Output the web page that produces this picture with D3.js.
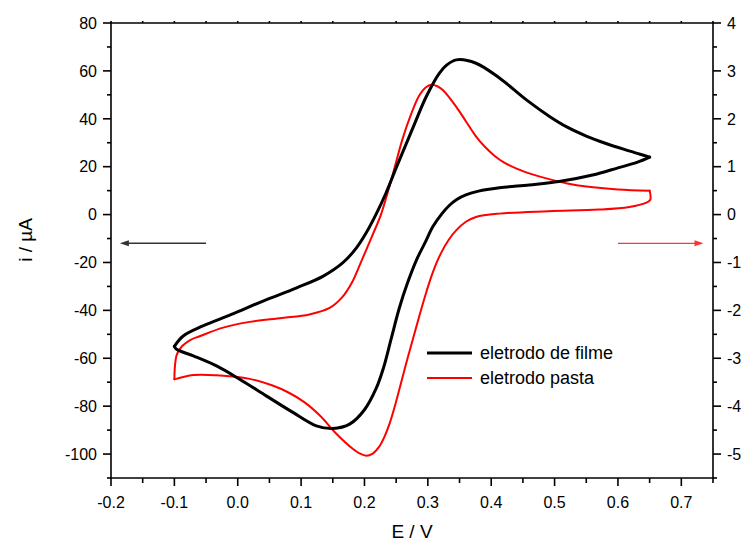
<!DOCTYPE html>
<html>
<head>
<meta charset="utf-8">
<script src="https://cdn.jsdelivr.net/npm/d3@7"></script>
<style>
  html, body { margin: 0; padding: 0; background: #fff; }
  svg { display: block; font-family: "Liberation Sans", Arial, sans-serif; }
</style>
</head>
<body>
<svg id="chart" width="748" height="542"></svg>
<script>
// ---- data ----
// eletrodo de filme (left axis, µA): forward scan then reverse scan
const filmeForwardE = [-0.1, -0.086, -0.055, -0.01, 0.04, 0.093, 0.135, 0.166, 0.187, 0.203, 0.219, 0.234, 0.250, 0.265, 0.280, 0.297, 0.318, 0.330, 0.345, 0.376, 0.413, 0.455, 0.492, 0.520, 0.550, 0.580, 0.610, 0.635, 0.650];
const filmeForwardI = [-55, -50.7, -46.5, -41.7, -36.1, -30.6, -25.7, -20.1, -14, -7.5, 0.5, 9, 19.5, 29, 38.5, 49, 59, 62.5, 64.6, 63.2, 57, 48, 41, 36.5, 32.8, 29.8, 27.2, 25.2, 24];
const filmeReverseE = [0.650, 0.630, 0.600, 0.560, 0.507, 0.460, 0.413, 0.380, 0.360, 0.345, 0.333, 0.322, 0.308, 0.296, 0.282, 0.268, 0.255, 0.242, 0.230, 0.2186, 0.200, 0.1766, 0.150, 0.124, 0.087, 0.045, 0.003, -0.0335, -0.070, -0.0965, -0.1];
const filmeReverseI = [24, 21.8, 19.5, 16.5, 13.8, 12.4, 11.2, 9.8, 8.2, 6.2, 3.6, 0.3, -5, -11.5, -19, -28.5, -39, -52, -64, -72.5, -81.5, -87.5, -89.3, -88.2, -82.6, -75.7, -68.75, -63.2, -59, -56.25, -55];

// eletrodo pasta (right axis)
const pastaForwardE = [-0.1, -0.099, -0.096, -0.088, -0.075, -0.06, -0.023, 0.019, 0.07, 0.113, 0.145, 0.165, 0.18, 0.195, 0.212, 0.226, 0.238, 0.249, 0.26, 0.273, 0.286, 0.297, 0.306, 0.315, 0.3236, 0.3446, 0.36, 0.375, 0.39, 0.405, 0.42, 0.44, 0.465, 0.49, 0.52, 0.55, 0.60, 0.65];
const pastaForwardI = [-3.44, -3.15, -2.92, -2.75, -2.62, -2.54, -2.36, -2.24, -2.16, -2.085, -1.95, -1.725, -1.425, -0.975, -0.45, 0.0, 0.525, 1.05, 1.575, 2.075, 2.475, 2.66, 2.71, 2.68, 2.60, 2.255, 1.95, 1.65, 1.415, 1.23, 1.09, 0.96, 0.84, 0.745, 0.65, 0.585, 0.525, 0.50];
const pastaReverseE = [0.65, 0.651, 0.644, 0.618, 0.57, 0.49, 0.413, 0.376, 0.36, 0.345, 0.333, 0.32, 0.308, 0.298, 0.288, 0.278, 0.268, 0.258, 0.249, 0.24, 0.232, 0.223, 0.213, 0.203, 0.192, 0.182, 0.1556, 0.13, 0.105, 0.08, 0.055, 0.019, -0.0335, -0.07, -0.1];
const pastaReverseI = [0.50, 0.31, 0.245, 0.16, 0.105, 0.07, 0.02, -0.05, -0.15, -0.325, -0.525, -0.825, -1.2, -1.6, -2.05, -2.525, -3.0, -3.5, -3.95, -4.35, -4.625, -4.85, -4.99, -5.035, -4.985, -4.895, -4.575, -4.2, -3.915, -3.715, -3.57, -3.43, -3.355, -3.35, -3.44];

const xTicks = [-0.2, -0.1, 0.0, 0.1, 0.2, 0.3, 0.4, 0.5, 0.6, 0.7];
const yLeftTicks = [-100, -80, -60, -40, -20, 0, 20, 40, 60, 80];
const yRightTicks = [-5, -4, -3, -2, -1, 0, 1, 2, 3, 4];
const legendLabels = ["eletrodo de filme", "eletrodo pasta"];
const xTitle = "E / V";
const yTitle = "i / \u00B5A";
// arrows: [E start, E end, i (left axis units)]
const arrowLeft = [-0.05, -0.186, -12];
const arrowRight = [0.60, 0.735, -12];

// ---- layout ----
const svg = d3.select("#chart");
const L = 111, R = 713, T = 23, B = 478;
const x = d3.scaleLinear().domain([-0.2, 0.75]).range([L, R]);
const yL = d3.scaleLinear().domain([-110, 80]).range([B, T]);
const yR = d3.scaleLinear().domain([-5.5, 4]).range([B, T]);

const fmt = v => d3.format(".1f")(v).replace("\u2212", "-");
const fmtI = v => String(v);

const tickFont = 16;

function range(a, b, s) { const r = []; for (let v = a; v <= b + 1e-9; v += s) r.push(+v.toFixed(6)); return r; }

const axes = svg.append("g").attr("stroke", "#000").attr("stroke-width", 1.6);

// frame
axes.append("line").attr("x1", L).attr("x2", L).attr("y1", T).attr("y2", B);
axes.append("line").attr("x1", R).attr("x2", R).attr("y1", T).attr("y2", B);
axes.append("line").attr("x1", L - 1).attr("x2", R + 1).attr("y1", B).attr("y2", B);
axes.append("line").attr("x1", L - 1).attr("x2", R + 1).attr("y1", T).attr("y2", T);

// bottom ticks
range(-0.2, 0.75, 0.05).forEach(v => {
  const major = xTicks.some(t => Math.abs(t - v) < 1e-6);
  axes.append("line").attr("x1", x(v)).attr("x2", x(v)).attr("y1", B).attr("y2", B + (major ? 8 : 5));
  axes.append("line").attr("x1", x(v)).attr("x2", x(v)).attr("y1", T).attr("y2", T - 2);
});
// left ticks
range(-110, 80, 10).forEach(v => {
  const major = yLeftTicks.includes(v);
  axes.append("line").attr("x1", L).attr("x2", L - (major ? 8 : 4)).attr("y1", yL(v)).attr("y2", yL(v));
});
// right ticks
range(-5.5, 4, 0.5).forEach(v => {
  const major = yRightTicks.some(t => Math.abs(t - v) < 1e-6);
  axes.append("line").attr("x1", R).attr("x2", R + (major ? 8 : 4)).attr("y1", yR(v)).attr("y2", yR(v));
});

const labels = svg.append("g").attr("font-size", tickFont).attr("fill", "#000");
xTicks.forEach(v => {
  labels.append("text").attr("x", x(v)).attr("y", B + 30).attr("text-anchor", "middle").text(fmt(v));
});
yLeftTicks.forEach(v => {
  labels.append("text").attr("x", L - 14).attr("y", yL(v)).attr("dy", "0.36em").attr("text-anchor", "end").text(fmtI(v));
});
yRightTicks.forEach(v => {
  labels.append("text").attr("x", R + 14).attr("y", yR(v)).attr("dy", "0.36em").attr("text-anchor", "start").text(fmtI(v));
});

// titles
svg.append("text").attr("x", (L + R) / 2).attr("y", 538).attr("text-anchor", "middle").attr("font-size", 19).text(xTitle);
svg.append("text").attr("transform", `translate(32,${240}) rotate(-90)`).attr("text-anchor", "middle").attr("font-size", 19).text(yTitle);

// curves
const zip = (a, b) => a.map((v, i) => [v, b[i]]);
const lineL = d3.line().x(d => x(d[0])).y(d => yL(d[1])).curve(d3.curveCatmullRom.alpha(0.5));
const lineR = d3.line().x(d => x(d[0])).y(d => yR(d[1])).curve(d3.curveCatmullRom.alpha(0.5));

const curves = svg.append("g").attr("fill", "none").attr("stroke-linejoin", "round").attr("stroke-linecap", "round");
curves.append("path").attr("d", lineR(zip(pastaForwardE, pastaForwardI))).attr("stroke", "#ff0000").attr("stroke-width", 2);
curves.append("path").attr("d", lineR(zip(pastaReverseE, pastaReverseI))).attr("stroke", "#ff0000").attr("stroke-width", 2);
curves.append("path").attr("d", lineL(zip(filmeForwardE, filmeForwardI))).attr("stroke", "#000").attr("stroke-width", 3);
curves.append("path").attr("d", lineL(zip(filmeReverseE, filmeReverseI))).attr("stroke", "#000").attr("stroke-width", 3);

// arrows
function arrow(spec, color, width) {
  const x1 = x(spec[0]), x2 = x(spec[1]), yy = yL(spec[2]);
  const dir = Math.sign(x2 - x1);
  svg.append("line").attr("x1", x1).attr("x2", x2 - dir * 6).attr("y1", yy).attr("y2", yy)
    .attr("stroke", color).attr("stroke-width", width);
  svg.append("path").attr("d", `M${x2},${yy} L${x2 - dir * 9},${yy - 3} L${x2 - dir * 9},${yy + 3} Z`).attr("fill", color);
}
arrow(arrowLeft, "#333", 1.5);
arrow(arrowRight, "#ff3333", 1.3);

// legend
const lg = svg.append("g");
const lgX = 427, lgY = 353, lgDy = 25;
lg.append("line").attr("x1", lgX).attr("x2", lgX + 45).attr("y1", lgY).attr("y2", lgY).attr("stroke", "#000").attr("stroke-width", 3);
lg.append("line").attr("x1", lgX).attr("x2", lgX + 45).attr("y1", lgY + lgDy).attr("y2", lgY + lgDy).attr("stroke", "#ff0000").attr("stroke-width", 2);
legendLabels.forEach((t, i) => {
  lg.append("text").attr("x", lgX + 53).attr("y", lgY + i * lgDy).attr("dy", "0.35em").attr("font-size", 18).text(t);
});
</script>
</body>
</html>
